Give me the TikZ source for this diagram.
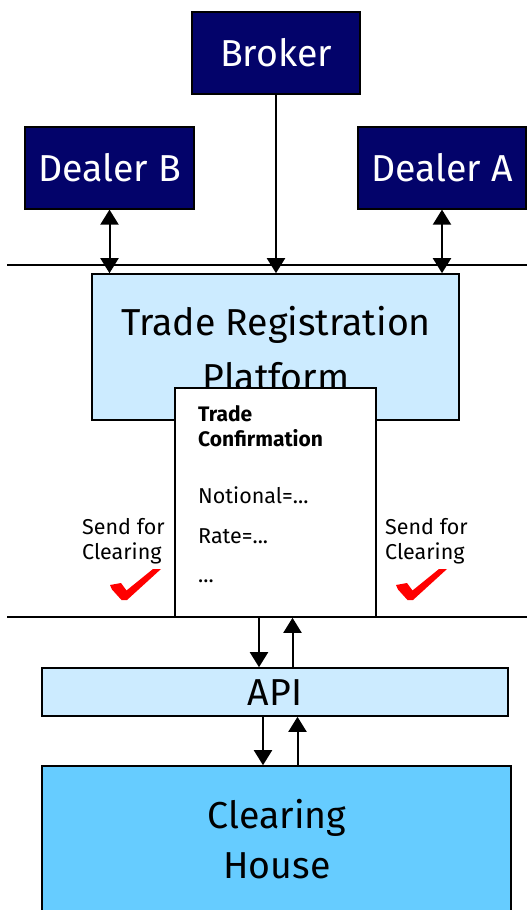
\documentclass[tikz,border=0pt]{standalone}
\usepackage{fontspec}
\setmainfont{Fira Sans}
\usetikzlibrary{arrows.meta}
\definecolor{navy}{HTML}{03036A}
\definecolor{paleblue}{HTML}{CCEBFF}
\definecolor{skyblue}{HTML}{66CCFF}
\definecolor{tickred}{HTML}{FF0000}
\tikzset{
  party/.style={draw=black, line width=1.2pt, fill=navy, text=white,
    font=\fontsize{37.5}{40}\selectfont, inner sep=0pt},
  system/.style={draw=black, line width=1.6pt, inner sep=0pt, align=center},
  bigtext/.style={font=\fontsize{37.5}{40}\selectfont, inner sep=0pt, anchor=base},
  smalltext/.style={font=\fontsize{21.5}{24}\selectfont, inner sep=0pt, anchor=base west},
  headtext/.style={smalltext, font=\fontsize{21}{24}\selectfont\bfseries},
  link/.style={line width=2pt, -{Triangle[width=18pt,length=15pt]}},
  duplex/.style={line width=2pt, {Triangle[width=18pt,length=15pt]}-{Triangle[width=18pt,length=15pt]}},
  rule/.style={line width=1.6pt},
  tick/.style={fill=tickred, draw=none},
}
\newcommand{\checkmarkat}[2]{%
  \fill[tick] (#1+0,#2+16) -- (#1+11,#2+14) -- (#1+16.5,#2+21.5) -- (#1+43,#2+0)
    -- (#1+51,#2+0) -- (#1+17,#2+31) -- (#1+11.5,#2+31) -- (#1+2,#2+20.5) -- cycle;}
\begin{document}
\begin{tikzpicture}[x=1pt,y=-1pt]
\useasboundingbox (0,0) rectangle (527,910);

% participants
\node[party, minimum width=168pt, minimum height=82pt] (broker) at (276,53) {Broker};
\node[party, minimum width=169pt, minimum height=82pt] (dealerB) at (109.5,168) {Dealer B};
\node[party, minimum width=168pt, minimum height=82pt] (dealerA) at (442,168) {Dealer A};

% layer separators
\coordinate (topL) at (7,265);
\coordinate (topR) at (527,265);
\coordinate (botL) at (7,617);
\coordinate (botR) at (527,617);
\draw[rule] (topL) -- (topR);
\draw[rule] (botL) -- (botR);

% registration platform
\node[system, fill=paleblue, minimum width=367pt, minimum height=146pt] (trp) at (275.5,347) {};
\node[bigtext] (trp1) at (276,335) {Trade Registration};
\node[bigtext] (trp2) at (276,390) {Platform};

% participant links
\draw[duplex] (dealerB.south) -- (dealerB.south |- trp.north);
\draw[link] (broker.south) -- (broker.south |- trp.north);
\draw[duplex] (dealerA.south) -- (dealerA.south |- trp.north);

% trade confirmation sheet
\node[system, fill=white, minimum width=201pt, minimum height=229pt] (tc) at (275.5,502.5) {};
\node[headtext] (tc1) at (198,421) {Trade};
\node[headtext] (tc2) at (198,446) {Confirmation};
\node[smalltext] (tc3) at (198,503) {Notional=...};
\node[smalltext] (tc4) at (198,543) {Rate=...};
\node[smalltext] (tc5) at (198,582) {...};

% clearing requests
\node[smalltext] (sendL1) at (82,534) {Send for};
\node[smalltext] (sendL2) at (82,559) {Clearing};
\node[smalltext] (sendR1) at (385,534) {Send for};
\node[smalltext] (sendR2) at (385,559) {Clearing};
\checkmarkat{110}{569}
\checkmarkat{396}{569}

% API and clearing house
\node[system, fill=paleblue, minimum width=466pt, minimum height=48pt] (api) at (275,692) {};
\node[bigtext] (apitext) at (275,705) {API};
\node[system, fill=skyblue, minimum width=469pt, minimum height=170pt] (ch) at (276.5,851) {};
\node[bigtext] (ch1) at (277,828) {Clearing};
\node[bigtext] (ch2) at (277,878) {House};

\draw[link] ([xshift=-16.5pt]tc.south) -- ([xshift=-16.5pt]tc.south |- api.north);
\draw[link] ([xshift=17.5pt]api.north) -- ([xshift=17.5pt]api.north |- tc.south);
\draw[link] ([xshift=-12pt]api.south) -- ([xshift=-12pt]api.south |- ch.north);
\draw[link] ([xshift=21pt]ch.north) -- ([xshift=21pt]ch.north |- api.south);
\end{tikzpicture}
\end{document}
